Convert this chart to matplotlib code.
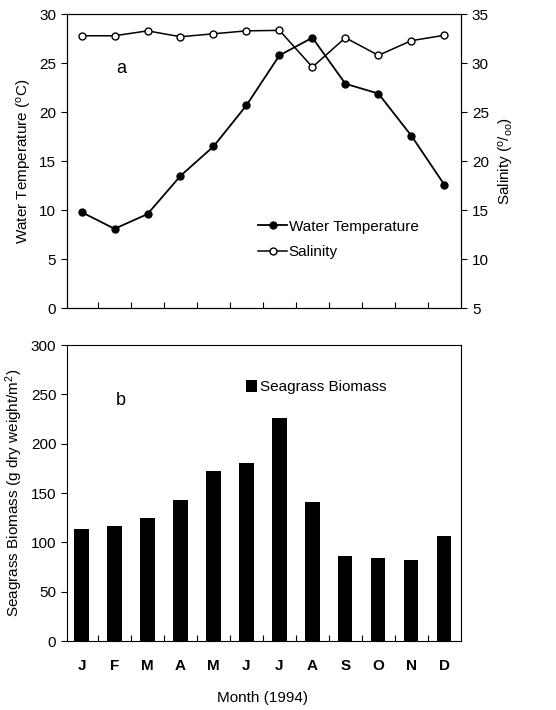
import numpy as np
import matplotlib
matplotlib.use('Agg')
import matplotlib.pyplot as plt

plt.rcParams['font.family'] = ['Liberation Sans', 'DejaVu Sans']
plt.rcParams['mathtext.fontset'] = 'custom'
plt.rcParams['mathtext.rm'] = 'Liberation Sans'
plt.rcParams['mathtext.it'] = 'Liberation Sans'

months = ['J', 'F', 'M', 'A', 'M', 'J', 'J', 'A', 'S', 'O', 'N', 'D']
water_temp = [9.8, 8.1, 9.6, 13.5, 16.5, 20.7, 25.8, 27.6, 22.9, 21.9, 17.6, 12.6]
salinity = [32.8, 32.8, 33.3, 32.7, 33.0, 33.3, 33.35, 29.6, 32.6, 30.8, 32.3, 32.85]
biomass = [113.5, 117, 125, 143, 172.5, 180.5, 226, 141, 86, 84, 82.5, 107]

x = np.arange(len(months))

fig = plt.figure(figsize=(5.56, 7.10), dpi=100)

# panel a: temperature and salinity
ax1 = fig.add_axes([0.12, 0.566, 0.71, 0.414])
ax2 = ax1.twinx()
l2, = ax2.plot(x, salinity, '-o', color='black', markerfacecolor='white',
               markeredgecolor='black', markersize=5, linewidth=1.1, label='Salinity')
l1, = ax1.plot(x, water_temp, '-o', color='black', markersize=5, linewidth=1.3,
               label='Water Temperature')
ax1.set_zorder(ax2.get_zorder() + 1)
ax1.patch.set_visible(False)

ax1.set_xlim(-0.45, 11.52)
ax1.set_ylim(0, 30)
ax2.set_ylim(5, 35)
ax1.set_yticks(range(0, 31, 5))
ax2.set_yticks(range(5, 36, 5))
ax1.set_xticks(np.arange(0.5, 11, 1))
ax1.set_xticklabels([])
ax1.tick_params(axis='x', direction='in', length=4)
ax1.tick_params(axis='y', direction='out', length=4, labelsize=11)
ax2.tick_params(axis='y', direction='out', length=4, labelsize=11)
ax1.set_ylabel('Water Temperature ($^{o}$C)', fontsize=11)
ax2.set_ylabel('Salinity ($^{o}/_{oo}$)', fontsize=11, labelpad=6)
ax1.text(1.05, 24.5, 'a', fontsize=13, va='center')
ax1.legend([l1, l2], ['Water Temperature', 'Salinity'], loc='lower left',
           bbox_to_anchor=(0.45, 0.12), frameon=False, fontsize=11,
           handlelength=1.9, handletextpad=0.1, labelspacing=0.75)

# panel b: seagrass biomass
ax3 = fig.add_axes([0.12, 0.097, 0.71, 0.417])
ax3.bar(x, biomass, width=0.43, color='black', label='Seagrass Biomass')
ax3.set_xlim(-0.45, 11.52)
ax3.set_ylim(0, 300)
ax3.set_yticks(range(0, 301, 50))
ax3.set_xticks(np.arange(0.5, 11, 1))
ax3.set_xticklabels([])
ax3.tick_params(axis='x', direction='in', length=4)
ax3.tick_params(axis='y', direction='out', length=4, labelsize=11)
# month letters sit under the bars, ticks lie between them
for i, m in enumerate(months):
    ax3.text(x[i], -25, m, ha='center', va='center', fontsize=11, fontweight='bold')
ax3.text(5.5, -58, 'Month (1994)', ha='center', va='center', fontsize=11)
ax3.set_ylabel('Seagrass Biomass (g dry weight/m$^{2}$)', fontsize=11)
ax3.text(1.05, 244, 'b', fontsize=13, va='center')
ax3.legend(loc='upper left', bbox_to_anchor=(0.42, 0.93), frameon=False, fontsize=11,
           handlelength=0.7, handleheight=0.9, handletextpad=0.2)

fig.savefig('out.png', dpi=100)
